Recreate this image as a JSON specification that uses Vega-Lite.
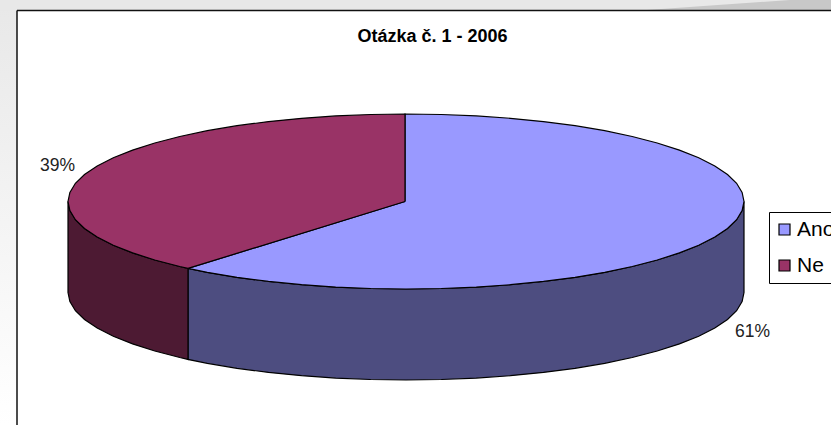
{"$schema":"https://vega.github.io/schema/vega-lite/v6.json","width":831,"height":425,"padding":0,"autosize":{"type":"none"},"background":"white","title":{"text":"Otázka č. 1 - 2006","font":"Liberation Sans","fontSize":18,"fontWeight":"bold","color":"black","anchor":"middle","dx":17,"offset":-46},"config":{"view":{"stroke":null}},"layer":[
{"data":{"values":[{"x":-406,"x2":-389,"y":201.5,"y2":-223.5}]},"mark":{"type":"rect","color":{"gradient":"linear","x1":0,"y1":0,"x2":0,"y2":1,"stops":[{"offset":0,"color":"#e8e8e8"},{"offset":1,"color":"#ffffff"}]}},"encoding":{"x":{"field":"x","type":"quantitative","scale":{"domain":[-406,425],"nice":false,"zero":false},"axis":null},"x2":{"field":"x2"},"y":{"field":"y","type":"quantitative","scale":{"domain":[-223.5,201.5],"nice":false,"zero":false},"axis":null},"y2":{"field":"y2"}}},
{"data":{"values":[{"x":-406,"x2":425,"y":201.5,"y2":191}]},"mark":{"type":"rect","color":"#e8e8e8"},"encoding":{"x":{"field":"x","type":"quantitative"},"x2":{"field":"x2"},"y":{"field":"y","type":"quantitative"},"y2":{"field":"y2"}}},
{"data":{"values":[{"i":1,"x":234,"y":191},{"i":2,"x":384,"y":201.5},{"i":3,"x":425,"y":201.5},{"i":4,"x":425,"y":191}]},"mark":{"type":"line","filled":true,"fill":"#c8c8c8","strokeWidth":0},"encoding":{"x":{"field":"x","type":"quantitative"},"y":{"field":"y","type":"quantitative"},"order":{"field":"i"}}},
{"data":{"values":[{"x":-389,"x2":425,"y":191,"y2":191},{"x":-389,"x2":-389,"y":191,"y2":-223.5}]},"mark":{"type":"rule","color":"#111111","strokeWidth":1.5},"encoding":{"x":{"field":"x","type":"quantitative"},"x2":{"field":"x2"},"y":{"field":"y","type":"quantitative"},"y2":{"field":"y2"}}},
{"data":{"values":[
{"f":"Ano bok","i":1,"x":-218,"y":-66.9},{"f":"Ano bok","i":2,"x":-198.7,"y":-70.8},{"f":"Ano bok","i":3,"x":-169,"y":-75.8},{"f":"Ano bok","i":4,"x":-137.5,"y":-79.9},{"f":"Ano bok","i":5,"x":-104.4,"y":-83.2},{"f":"Ano bok","i":6,"x":-70.3,"y":-85.6},{"f":"Ano bok","i":7,"x":-35.3,"y":-87},{"f":"Ano bok","i":8,"x":0,"y":-87.5},{"f":"Ano bok","i":9,"x":35.3,"y":-87},{"f":"Ano bok","i":10,"x":70.3,"y":-85.6},{"f":"Ano bok","i":11,"x":104.4,"y":-83.2},{"f":"Ano bok","i":12,"x":137.5,"y":-79.9},{"f":"Ano bok","i":13,"x":169,"y":-75.8},{"f":"Ano bok","i":14,"x":198.7,"y":-70.8},{"f":"Ano bok","i":15,"x":226.2,"y":-65},{"f":"Ano bok","i":16,"x":251.2,"y":-58.5},{"f":"Ano bok","i":17,"x":273.4,"y":-51.4},{"f":"Ano bok","i":18,"x":292.7,"y":-43.75},{"f":"Ano bok","i":19,"x":308.8,"y":-35.6},{"f":"Ano bok","i":20,"x":321.5,"y":-27},{"f":"Ano bok","i":21,"x":330.6,"y":-18.2},{"f":"Ano bok","i":22,"x":336.1,"y":-9.1},{"f":"Ano bok","i":23,"x":338,"y":0},
{"f":"Ano bok","i":24,"x":338,"y":-91},{"f":"Ano bok","i":25,"x":336.1,"y":-100.1},{"f":"Ano bok","i":26,"x":330.6,"y":-109.2},{"f":"Ano bok","i":27,"x":321.5,"y":-118},{"f":"Ano bok","i":28,"x":308.8,"y":-126.6},{"f":"Ano bok","i":29,"x":292.7,"y":-134.75},{"f":"Ano bok","i":30,"x":273.4,"y":-142.4},{"f":"Ano bok","i":31,"x":251.2,"y":-149.5},{"f":"Ano bok","i":32,"x":226.2,"y":-156},{"f":"Ano bok","i":33,"x":198.7,"y":-161.8},{"f":"Ano bok","i":34,"x":169,"y":-166.8},{"f":"Ano bok","i":35,"x":137.5,"y":-170.9},{"f":"Ano bok","i":36,"x":104.4,"y":-174.2},{"f":"Ano bok","i":37,"x":70.3,"y":-176.6},{"f":"Ano bok","i":38,"x":35.3,"y":-178},{"f":"Ano bok","i":39,"x":0,"y":-178.5},{"f":"Ano bok","i":40,"x":-35.3,"y":-178},{"f":"Ano bok","i":41,"x":-70.3,"y":-176.6},{"f":"Ano bok","i":42,"x":-104.4,"y":-174.2},{"f":"Ano bok","i":43,"x":-137.5,"y":-170.9},{"f":"Ano bok","i":44,"x":-169,"y":-166.8},{"f":"Ano bok","i":45,"x":-198.7,"y":-161.8},{"f":"Ano bok","i":46,"x":-218,"y":-157.9},{"f":"Ano bok","i":47,"x":-218,"y":-66.9},
{"f":"Ne bok","i":1,"x":-338,"y":0},{"f":"Ne bok","i":2,"x":-336.1,"y":-9.1},{"f":"Ne bok","i":3,"x":-330.6,"y":-18.2},{"f":"Ne bok","i":4,"x":-321.5,"y":-27},{"f":"Ne bok","i":5,"x":-308.8,"y":-35.6},{"f":"Ne bok","i":6,"x":-292.7,"y":-43.75},{"f":"Ne bok","i":7,"x":-273.4,"y":-51.4},{"f":"Ne bok","i":8,"x":-251.2,"y":-58.5},{"f":"Ne bok","i":9,"x":-226.2,"y":-65},{"f":"Ne bok","i":10,"x":-218,"y":-66.9},{"f":"Ne bok","i":11,"x":-218,"y":-157.9},{"f":"Ne bok","i":12,"x":-226.2,"y":-156},{"f":"Ne bok","i":13,"x":-251.2,"y":-149.5},{"f":"Ne bok","i":14,"x":-273.4,"y":-142.4},{"f":"Ne bok","i":15,"x":-292.7,"y":-134.75},{"f":"Ne bok","i":16,"x":-308.8,"y":-126.6},{"f":"Ne bok","i":17,"x":-321.5,"y":-118},{"f":"Ne bok","i":18,"x":-330.6,"y":-109.2},{"f":"Ne bok","i":19,"x":-336.1,"y":-100.1},{"f":"Ne bok","i":20,"x":-338,"y":-91},{"f":"Ne bok","i":21,"x":-338,"y":0},
{"f":"Ano","i":1,"x":-1,"y":0},{"f":"Ano","i":2,"x":-1,"y":87.5},{"f":"Ano","i":3,"x":35.3,"y":87},{"f":"Ano","i":4,"x":70.3,"y":85.6},{"f":"Ano","i":5,"x":104.4,"y":83.2},{"f":"Ano","i":6,"x":137.5,"y":79.9},{"f":"Ano","i":7,"x":169,"y":75.8},{"f":"Ano","i":8,"x":198.7,"y":70.8},{"f":"Ano","i":9,"x":226.2,"y":65},{"f":"Ano","i":10,"x":251.2,"y":58.5},{"f":"Ano","i":11,"x":273.4,"y":51.4},{"f":"Ano","i":12,"x":292.7,"y":43.75},{"f":"Ano","i":13,"x":308.8,"y":35.6},{"f":"Ano","i":14,"x":321.5,"y":27},{"f":"Ano","i":15,"x":330.6,"y":18.2},{"f":"Ano","i":16,"x":336.1,"y":9.1},{"f":"Ano","i":17,"x":338,"y":0},{"f":"Ano","i":18,"x":336.1,"y":-9.1},{"f":"Ano","i":19,"x":330.6,"y":-18.2},{"f":"Ano","i":20,"x":321.5,"y":-27},{"f":"Ano","i":21,"x":308.8,"y":-35.6},{"f":"Ano","i":22,"x":292.7,"y":-43.75},{"f":"Ano","i":23,"x":273.4,"y":-51.4},{"f":"Ano","i":24,"x":251.2,"y":-58.5},{"f":"Ano","i":25,"x":226.2,"y":-65},{"f":"Ano","i":26,"x":198.7,"y":-70.8},{"f":"Ano","i":27,"x":169,"y":-75.8},{"f":"Ano","i":28,"x":137.5,"y":-79.9},{"f":"Ano","i":29,"x":104.4,"y":-83.2},{"f":"Ano","i":30,"x":70.3,"y":-85.6},{"f":"Ano","i":31,"x":35.3,"y":-87},{"f":"Ano","i":32,"x":0,"y":-87.5},{"f":"Ano","i":33,"x":-35.3,"y":-87},{"f":"Ano","i":34,"x":-70.3,"y":-85.6},{"f":"Ano","i":35,"x":-104.4,"y":-83.2},{"f":"Ano","i":36,"x":-137.5,"y":-79.9},{"f":"Ano","i":37,"x":-169,"y":-75.8},{"f":"Ano","i":38,"x":-198.7,"y":-70.8},{"f":"Ano","i":39,"x":-218,"y":-66.9},{"f":"Ano","i":40,"x":-1,"y":0},
{"f":"Ne","i":1,"x":-1,"y":0},{"f":"Ne","i":2,"x":-218,"y":-66.9},{"f":"Ne","i":3,"x":-226.2,"y":-65},{"f":"Ne","i":4,"x":-251.2,"y":-58.5},{"f":"Ne","i":5,"x":-273.4,"y":-51.4},{"f":"Ne","i":6,"x":-292.7,"y":-43.75},{"f":"Ne","i":7,"x":-308.8,"y":-35.6},{"f":"Ne","i":8,"x":-321.5,"y":-27},{"f":"Ne","i":9,"x":-330.6,"y":-18.2},{"f":"Ne","i":10,"x":-336.1,"y":-9.1},{"f":"Ne","i":11,"x":-338,"y":0},{"f":"Ne","i":12,"x":-336.1,"y":9.1},{"f":"Ne","i":13,"x":-330.6,"y":18.2},{"f":"Ne","i":14,"x":-321.5,"y":27},{"f":"Ne","i":15,"x":-308.8,"y":35.6},{"f":"Ne","i":16,"x":-292.7,"y":43.75},{"f":"Ne","i":17,"x":-273.4,"y":51.4},{"f":"Ne","i":18,"x":-251.2,"y":58.5},{"f":"Ne","i":19,"x":-226.2,"y":65},{"f":"Ne","i":20,"x":-198.7,"y":70.8},{"f":"Ne","i":21,"x":-169,"y":75.8},{"f":"Ne","i":22,"x":-137.5,"y":79.9},{"f":"Ne","i":23,"x":-104.4,"y":83.2},{"f":"Ne","i":24,"x":-70.3,"y":85.6},{"f":"Ne","i":25,"x":-35.3,"y":87},{"f":"Ne","i":26,"x":-1,"y":87.5},{"f":"Ne","i":27,"x":-1,"y":0}
]},"mark":{"type":"line","filled":true,"stroke":"black","strokeWidth":1.2,"strokeJoin":"miter"},"encoding":{"x":{"field":"x","type":"quantitative"},"y":{"field":"y","type":"quantitative"},"order":{"field":"i"},"detail":{"field":"f"},"fill":{"field":"f","type":"nominal","scale":{"domain":["Ano","Ne","Ano bok","Ne bok"],"range":["#9999FF","#993366","#4D4D80","#4D1A33"]},"legend":{"values":["Ano","Ne"],"title":null,"orient":"none","legendX":769,"legendY":212,"fillColor":"white","strokeColor":"black","padding":7,"symbolType":"square","symbolSize":121,"symbolOffset":-2,"symbolStrokeColor":"black","symbolStrokeWidth":1.2,"rowPadding":14,"labelFont":"Liberation Sans","labelFontSize":21,"labelColor":"black","labelOffset":2,"symbolOpacity":1}}}},
{"data":{"values":[{"answer":"Ano","share":"61%","x":346.5,"y":-130},{"answer":"Ne","share":"39%","x":-348.5,"y":36}]},"mark":{"type":"text","font":"Liberation Sans","fontSize":17.5,"color":"#222222","align":"center","baseline":"middle"},"encoding":{"x":{"field":"x","type":"quantitative"},"y":{"field":"y","type":"quantitative"},"text":{"field":"share"}}}
]}
